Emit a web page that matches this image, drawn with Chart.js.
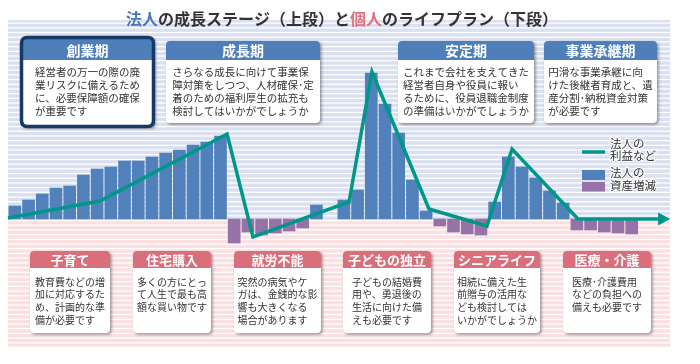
<!DOCTYPE html>
<html>
<head>
<meta charset="utf-8">
<script src="https://cdn.jsdelivr.net/npm/chart.js@4.4.1/dist/chart.umd.min.js"></script>
<style>
  body { margin: 0; background: #fff; }
  #wrap { width: 700px; height: 364px; position: relative; }
</style>
</head>
<body>
<div id="wrap"><canvas id="myChart"></canvas></div>
<script>
// --- data ---
// 法人の資産増減 per period (positive = blue, negative = purple), null = no bar
const assetChange = [13, 19, 25, 31, 33, 44, 50, 52, 58, 58, 62, 66, 69, 74, 77, 83,
  -24, -13, -16, -14, -12, -9, 14, null,
  19, 29, 146, 115, 86, 39, 8, -7, -13, -15, -16,
  17, 62, 52, 41, 28, 16, -11, -11, -13, -14, -15, null, null];

// 法人の利益など (line), x in periods
const profitX = [-0.5, 6.2, 15.48, 17.37, 24.38, 26.05, 30.21, 34.44, 36.27, 41.08, 47];
const profitY = [1, 18, 85, -18, 17, 147, 10, -7, 70, 0, 0];

const titleParts = [
  ['法人', '#4a7ab5'], ['の成長ステージ（上段）と', '#333333'],
  ['個人', '#e0707f'], ['のライフプラン（下段）', '#333333']
];

const upperStages = [
  { title: '創業期', lines: ['経営者の万一の際の廃', '業リスクに備えるため', 'に、必要保障額の確保', 'が重要です'] },
  { title: '成長期', lines: ['さらなる成長に向けて事業保', '障対策をしつつ、人材確保･定', '着のための福利厚生の拡充も', '検討してはいかがでしょうか'] },
  { title: '安定期', lines: ['これまで会社を支えてきた', '経営者自身や役員に報い', 'るために、役員退職金制度', 'の準備はいかがでしょうか'] },
  { title: '事業承継期', lines: ['円滑な事業承継に向', 'けた後継者育成と、遺', '産分割･納税資金対策', 'が必要です'] }
];

const lowerEvents = [
  { title: '子育て', lines: ['教育費などの増', '加に対応するた', 'め、計画的な準', '備が必要です'] },
  { title: '住宅購入', lines: ['多くの方にとっ', 'て人生で最も高', '額な買い物です'] },
  { title: '就労不能', lines: ['突然の病気やケ', 'ガは、金銭的な影', '響も大きくなる', '場合があります'] },
  { title: '子どもの独立', lines: ['子どもの結婚費', '用や、勇退後の', '生活に向けた備', 'えも必要です'] },
  { title: 'シニアライフ', lines: ['相続に備えた生', '前贈与の活用な', 'ども検討しては', 'いかがでしょうか'] },
  { title: '医療・介護', lines: ['医療･介護費用', 'などの負担への', '備えも必要です'] }
];

// --- layout ---
const FONT = '"Noto Sans CJK JP", "Noto Sans", sans-serif';
const BLUE = '#5081bb';
const PURPLE = '#9672a7';
const TEAL = '#00978b';
const upperBoxes = [[21, 37, 133, 90], [166, 41, 154, 82], [398, 41, 136, 82], [544, 41, 113, 82]];
const lowerBoxes = [[30, 251, 80, 82], [133, 251, 78, 82], [234, 251, 87, 82], [343, 251, 88, 82], [454, 251, 86, 82], [563, 251, 88, 82]];

const barPoints = assetChange.map((v, i) => ({ x: i, y: v }));
const profitPoints = profitX.map((x, i) => ({ x: x, y: profitY[i] }));

function rr(ctx, x, y, w, h, r) {
  ctx.beginPath();
  ctx.moveTo(x + r, y);
  ctx.lineTo(x + w - r, y);
  ctx.quadraticCurveTo(x + w, y, x + w, y + r);
  ctx.lineTo(x + w, y + h - r);
  ctx.quadraticCurveTo(x + w, y + h, x + w - r, y + h);
  ctx.lineTo(x + r, y + h);
  ctx.quadraticCurveTo(x, y + h, x, y + h - r);
  ctx.lineTo(x, y + r);
  ctx.quadraticCurveTo(x, y, x + r, y);
  ctx.closePath();
}

function topRR(ctx, x, y, w, h, r) {
  ctx.beginPath();
  ctx.moveTo(x, y + h);
  ctx.lineTo(x, y + r);
  ctx.quadraticCurveTo(x, y, x + r, y);
  ctx.lineTo(x + w - r, y);
  ctx.quadraticCurveTo(x + w, y, x + w, y + r);
  ctx.lineTo(x + w, y + h);
  ctx.closePath();
}

function drawBox(ctx, b, info, o) {
  const [x, y, w, h] = b;
  ctx.save();
  ctx.shadowColor = 'rgba(0,0,0,0.4)';
  ctx.shadowBlur = 3;
  ctx.shadowOffsetX = 1.5;
  ctx.shadowOffsetY = 1.5;
  ctx.fillStyle = '#fff';
  rr(ctx, x, y, w, h, 4);
  ctx.fill();
  ctx.restore();

  let hx = x, hy = y, hw = w;
  if (o.border) { hx = x + 2; hy = y + 2; hw = w - 4; }
  ctx.fillStyle = o.headColor;
  topRR(ctx, hx, hy, hw, o.headBottom - hy, 4);
  ctx.fill();

  if (o.border) {
    ctx.strokeStyle = '#18386a';
    ctx.lineWidth = 3.5;
    rr(ctx, x + 0.5, y + 0.5, w - 1, h - 1, 6);
    ctx.stroke();
  }

  ctx.fillStyle = '#fff';
  ctx.font = 'bold ' + o.headSize + 'px ' + FONT;
  ctx.textAlign = 'center';
  ctx.textBaseline = 'middle';
  ctx.fillText(info.title, x + w / 2, o.headMid);

  ctx.font = o.bodySize + 'px ' + FONT;
  ctx.fillStyle = '#333';
  ctx.textAlign = 'left';
  let maxW = 0;
  info.lines.forEach(l => { maxW = Math.max(maxW, ctx.measureText(l).width); });
  const left = x + (w - maxW) / 2;
  info.lines.forEach((l, i) => {
    ctx.fillText(l, left, o.firstLine + i * o.lineStep);
  });
}

const infoPlugin = {
  id: 'infoPlugin',
  beforeDraw(chart) {
    const ctx = chart.ctx;
    const zeroY = chart.scales.y.getPixelForValue(0);
    ctx.save();
    ctx.fillStyle = '#dae0ef';
    ctx.fillRect(8, 20, 662, zeroY - 20);
    ctx.fillStyle = '#fae0e3';
    ctx.fillRect(8, zeroY, 662, 348 - zeroY);
    ctx.fillStyle = 'rgba(255,255,255,0.95)';
    for (let yy = 22.5; yy < 348; yy += 4.7) {
      ctx.fillRect(8, yy, 662, 1.3);
    }
    ctx.restore();
  },
  afterDatasetsDraw(chart) {
    const ctx = chart.ctx;
    // arrow head at end of profit line
    const meta = chart.getDatasetMeta(1);
    const last = meta.data[meta.data.length - 1];
    ctx.save();
    ctx.fillStyle = TEAL;
    ctx.beginPath();
    ctx.moveTo(last.x - 1, last.y - 6.5);
    ctx.lineTo(last.x + 11, last.y);
    ctx.lineTo(last.x - 1, last.y + 6.5);
    ctx.closePath();
    ctx.fill();
    ctx.restore();
  },
  afterDraw(chart) {
    const ctx = chart.ctx;
    ctx.save();
    // title
    ctx.font = 'bold 16px ' + FONT;
    ctx.textBaseline = 'middle';
    ctx.textAlign = 'left';
    let total = 0;
    titleParts.forEach(p => { total += ctx.measureText(p[0]).width; });
    let tx = 342 - total / 2;
    titleParts.forEach(p => {
      ctx.fillStyle = p[1];
      ctx.fillText(p[0], tx, 19);
      tx += ctx.measureText(p[0]).width;
    });

    upperStages.forEach((s, i) => {
      drawBox(ctx, upperBoxes[i], s, {
        border: i === 0, headColor: '#4f7fba', headBottom: 60, headMid: 50.5,
        headSize: 14, bodySize: 10.5, firstLine: 72, lineStep: 13
      });
    });
    lowerEvents.forEach((s, i) => {
      drawBox(ctx, lowerBoxes[i], s, {
        border: false, headColor: '#da6f7c', headBottom: 268, headMid: 260.5,
        headSize: 13, bodySize: 10, firstLine: 282, lineStep: 12.7
      });
    });

    // legend
    ctx.strokeStyle = TEAL;
    ctx.lineWidth = 3.5;
    ctx.beginPath();
    ctx.moveTo(582, 152);
    ctx.lineTo(605, 152);
    ctx.stroke();
    ctx.fillStyle = BLUE;
    ctx.fillRect(582, 170, 23, 10);
    ctx.fillStyle = PURPLE;
    ctx.fillRect(582, 182, 23, 9.5);
    ctx.font = '11.5px ' + FONT;
    ctx.textAlign = 'left';
    ctx.textBaseline = 'middle';
    [['法人の', 143.5], ['利益など', 156], ['法人の', 173], ['資産増減', 186]].forEach(t => {
      ctx.strokeStyle = 'rgba(255,255,255,0.8)';
      ctx.lineWidth = 2.5;
      ctx.strokeText(t[0], 610, t[1]);
      ctx.fillStyle = '#333';
      ctx.fillText(t[0], 610, t[1]);
    });
    ctx.restore();
  }
};

const chartCtx = document.getElementById('myChart').getContext('2d');
new Chart(chartCtx, {
  type: 'bar',
  data: {
    datasets: [
      {
        label: '法人の資産増減',
        data: barPoints,
        backgroundColor: ctx => (ctx.raw && ctx.raw.y < 0 ? PURPLE : BLUE),
        barThickness: 12,
        order: 2
      },
      {
        type: 'line',
        label: '法人の利益など',
        data: profitPoints,
        borderColor: TEAL,
        borderWidth: 3.5,
        borderJoinStyle: 'miter',
        pointRadius: 0,
        tension: 0,
        fill: false,
        clip: false,
        order: 1
      }
    ]
  },
  options: {
    responsive: true,
    maintainAspectRatio: false,
    animation: false,
    layout: { padding: { left: 8, right: 34, top: 20, bottom: 16 } },
    scales: {
      x: { type: 'linear', display: false, offset: false, min: -0.5, max: 47.5 },
      y: { display: false, min: -129, max: 199 }
    },
    plugins: {
      legend: { display: false },
      tooltip: { enabled: false }
    }
  },
  plugins: [infoPlugin]
});
</script>
</body>
</html>
